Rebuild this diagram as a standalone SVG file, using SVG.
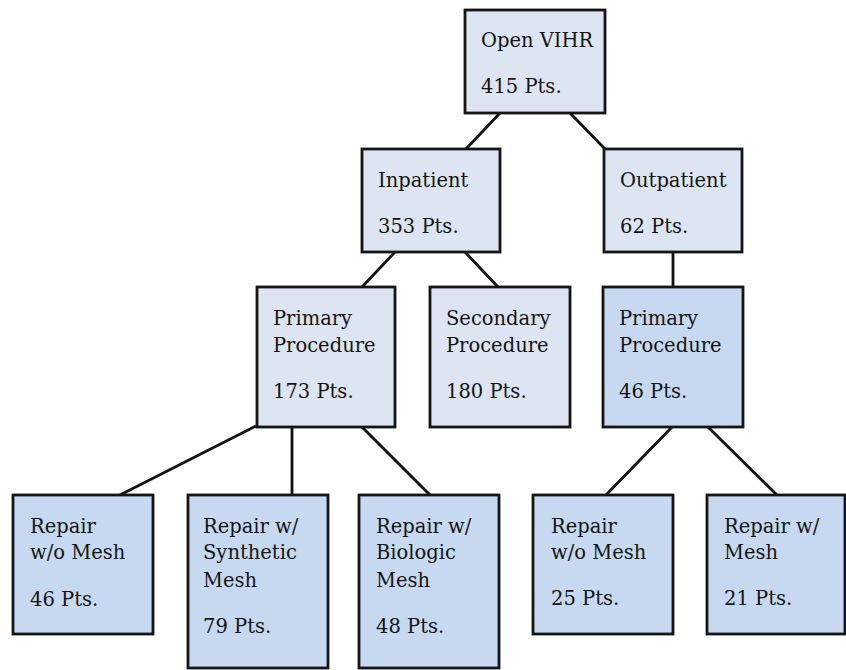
<svg xmlns="http://www.w3.org/2000/svg" width="846" height="670" viewBox="0 0 846 670">
<style>
.light{fill:#dce5f1;stroke:#151515;stroke-width:2.8}
.dark{fill:#c6d9f0;stroke:#151515;stroke-width:2.8}
text{font-family:"DejaVu Serif","Liberation Serif",serif;font-size:19.5px;fill:#141414}
.conn line{stroke:#111;stroke-width:2.8}
</style>
<rect width="846" height="670" fill="#fff"/>
<g class="conn">
<line x1="500" y1="113" x2="466" y2="149"/>
<line x1="570" y1="113" x2="605" y2="149"/>
<line x1="395" y1="252" x2="362" y2="287"/>
<line x1="465" y1="252" x2="498" y2="287"/>
<line x1="673" y1="252" x2="673" y2="287"/>
<line x1="256" y1="426" x2="120" y2="495"/>
<line x1="292" y1="427" x2="292" y2="495"/>
<line x1="362" y1="427" x2="430" y2="495"/>
<line x1="672" y1="427" x2="606" y2="495"/>
<line x1="708" y1="427" x2="777" y2="495"/>
</g>
<g id="open-vihr"><rect class="light" x="465" y="10" width="140" height="103"/><text x="481" y="47">Open VIHR</text><text x="481" y="93">415 Pts.</text></g>
<g id="inpatient"><rect class="light" x="362" y="149" width="138" height="103"/><text x="378" y="187">Inpatient</text><text x="378" y="233">353 Pts.</text></g>
<g id="outpatient"><rect class="light" x="604" y="149" width="138" height="103"/><text x="620" y="187">Outpatient</text><text x="620" y="233">62 Pts.</text></g>
<g id="inpt-primary"><rect class="light" x="257" y="287" width="138" height="140"/><text x="273" y="325">Primary</text><text x="273" y="352">Procedure</text><text x="273" y="398">173 Pts.</text></g>
<g id="inpt-secondary"><rect class="light" x="430" y="287" width="140" height="140"/><text x="446" y="325">Secondary</text><text x="446" y="352">Procedure</text><text x="446" y="398">180 Pts.</text></g>
<g id="outpt-primary"><rect class="dark" x="603" y="287" width="140" height="140"/><text x="619" y="325">Primary</text><text x="619" y="352">Procedure</text><text x="619" y="398">46 Pts.</text></g>
<g id="inpt-no-mesh"><rect class="dark" x="13" y="495" width="140" height="139"/><text x="30" y="533">Repair</text><text x="30" y="559">w/o Mesh</text><text x="30" y="606">46 Pts.</text></g>
<g id="inpt-synthetic"><rect class="dark" x="188" y="495" width="140" height="173"/><text x="203" y="533">Repair w/</text><text x="203" y="559">Synthetic</text><text x="203" y="587">Mesh</text><text x="203" y="633">79 Pts.</text></g>
<g id="inpt-biologic"><rect class="dark" x="359" y="495" width="140" height="173"/><text x="376" y="533">Repair w/</text><text x="376" y="559">Biologic</text><text x="376" y="587">Mesh</text><text x="376" y="633">48 Pts.</text></g>
<g id="outpt-no-mesh"><rect class="dark" x="533" y="495" width="140" height="139"/><text x="551" y="533">Repair</text><text x="551" y="559">w/o Mesh</text><text x="551" y="605">25 Pts.</text></g>
<g id="outpt-mesh"><rect class="dark" x="707" y="495" width="138" height="139"/><text x="724" y="533">Repair w/</text><text x="724" y="559">Mesh</text><text x="724" y="605">21 Pts.</text></g>
</svg>
